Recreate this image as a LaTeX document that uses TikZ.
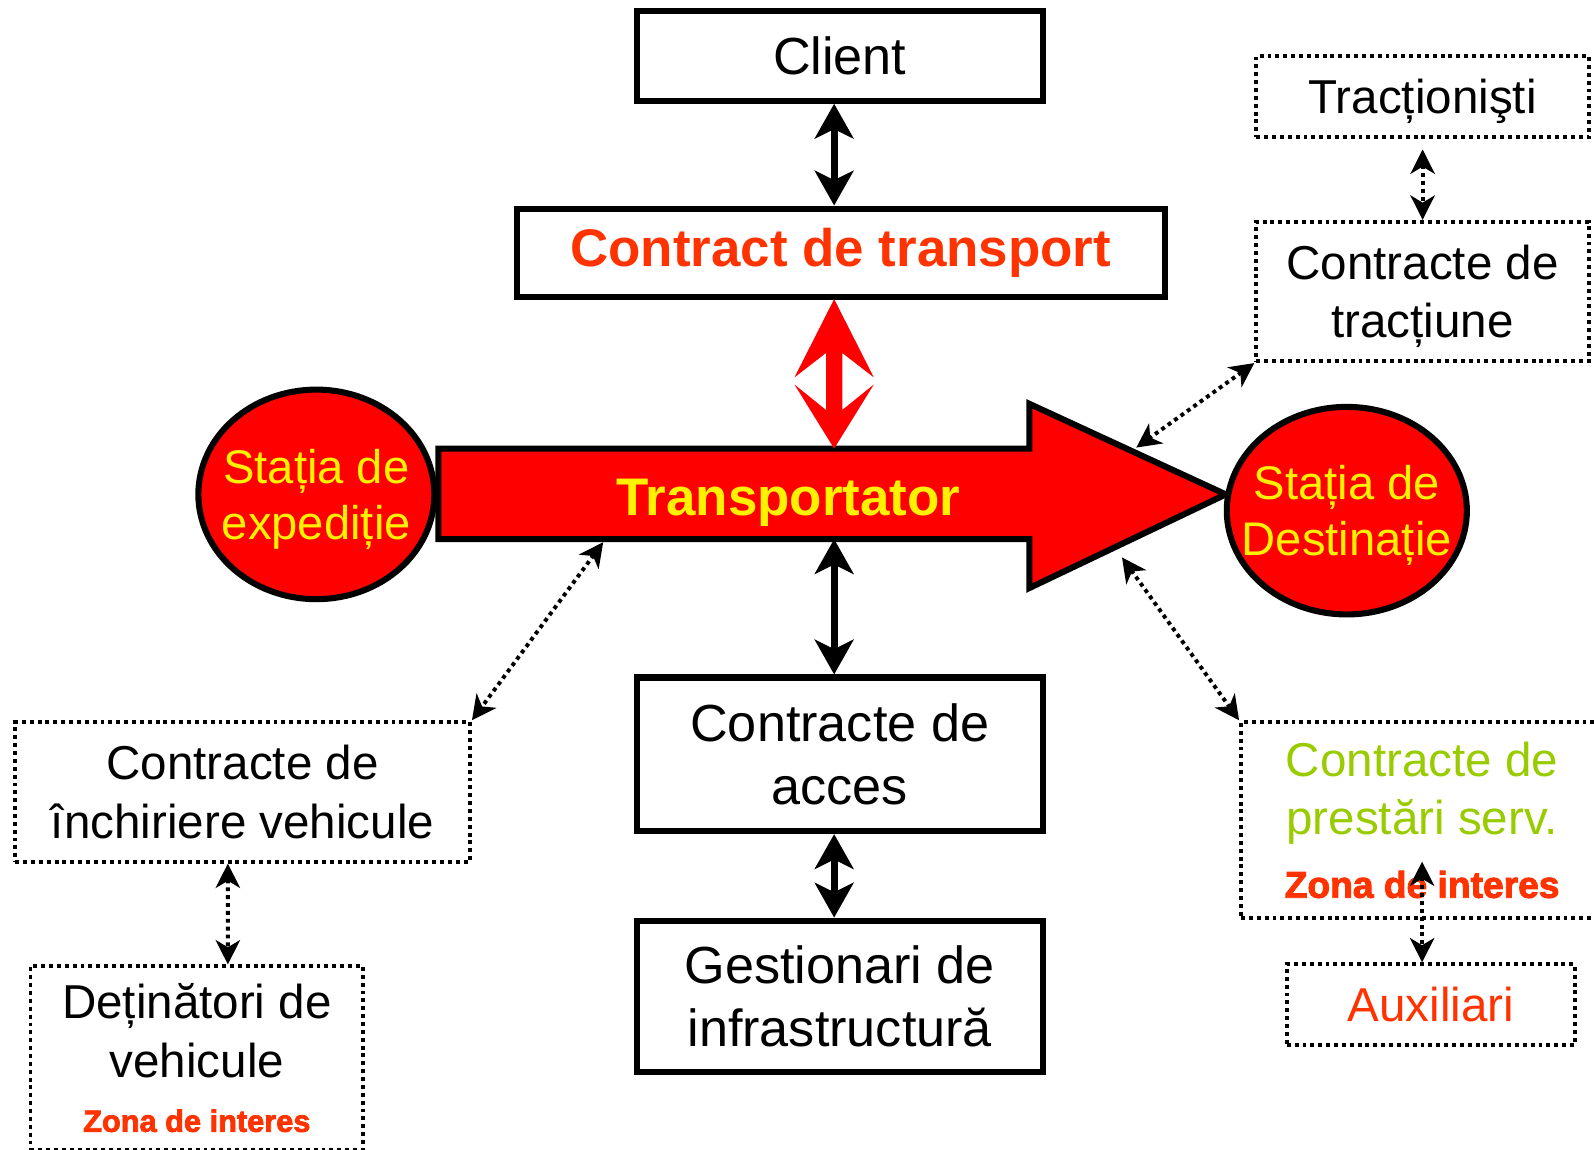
\documentclass[tikz,border=0pt]{standalone}
\usepackage{fontspec}
\setmainfont{Liberation Sans}
\newfontfamily\zonaface{Liberation Sans}[BoldFeatures={FakeBold=2.5}]
\usetikzlibrary{arrows.meta,shapes.geometric}
\definecolor{vermilion}{HTML}{FF3300}
\definecolor{leafgreen}{HTML}{99CC00}
\begin{document}
\begin{tikzpicture}[x=0.1mm,y=-0.1mm,
  solidbox/.style={draw,line width=1.7pt,inner sep=0pt,align=center,font=\fontsize{14.6}{17.8}\selectfont},
  dotbox/.style={draw,line width=1.1pt,dash pattern=on 1.1pt off 1.1pt,inner sep=0pt,align=center,font=\fontsize{13.3}{16.4}\selectfont},
  station/.style={ellipse,draw,line width=1.7pt,fill=red,text=yellow,inner xsep=-3mm,inner ysep=0pt,text depth=0pt,align=center,font=\fontsize{13.2}{15.6}\selectfont},
  solidarrow/.style={line width=2pt,{Stealth[length=9.7pt,width=10.8pt,inset=2.6pt]}-{Stealth[length=9.7pt,width=10.8pt,inset=2.6pt]}},
  dotarrow/.style={line width=1.1pt,dash pattern=on 1.1pt off 1.1pt,{Stealth[length=6.8pt,width=6.8pt,inset=2pt]}-{Stealth[length=6.8pt,width=6.8pt,inset=2pt]}}]
\useasboundingbox (0,0) rectangle (1567,1130);

\draw [line width=1.7pt,fill=red] (431,441) -- (1012,441) -- (1012,397) -- (1205,486) -- (1012,578) -- (1012,530) -- (431,530) -- cycle;
  \node (transp) at (775,494) {\bfseries\fontsize{14.8}{17}\selectfont\color{yellow}Transportator};
  \node[station,minimum width=23.2mm,minimum height=20.6mm] (expeditie) at (311,486) {Stația de\\expediție};
  \node[station,minimum width=23.6mm,minimum height=20.4mm] (destinatie) at (1324,502) {Stația de\\Destinație};

  \node[solidbox,minimum width=39.9mm,minimum height=8.8mm] (client) at (825.5,55) {Client};
  \node[solidbox,minimum width=63.7mm,minimum height=8.7mm,text=vermilion,font=\bfseries\fontsize{14.8}{17}\selectfont] (ctransp) at (826.5,248.5) {Contract de transport};
  \node[solidbox,minimum width=39.9mm,minimum height=15.1mm] (acces) at (825.5,741.5) {Contracte de\\acces};
  \node[solidbox,minimum width=39.9mm,minimum height=14.9mm] (gestionari) at (825.5,979.5) {Gestionari de\\infrastructură};

  \node[dotbox,minimum width=32.7mm,minimum height=8mm,text depth=0pt] (tractionisti) at (1398.5,95) {Tracționişti};
  \node[dotbox,minimum width=32.7mm,minimum height=13.7mm,text depth=0pt] (ctract) at (1398.5,286.5) {Contracte de\\tracțiune};
  \node[dotbox,minimum width=35.6mm,minimum height=19.2mm,text=leafgreen] (prestari) at (1398,806) {Contracte de\\prestări serv.\\[1.2pt]{\color{vermilion}\zonaface\bfseries\fontsize{10.4}{10.4}\selectfont Zona de interes}};
  \node[dotbox,minimum width=28.3mm,minimum height=7.9mm,text=vermilion] (auxiliari) at (1406.5,987.5) {Auxiliari};
  \node[dotbox,minimum width=44.7mm,minimum height=13.7mm] (inchiriere) at (238.5,778.5) {Contracte de\\închiriere vehicule};
  \node[dotbox,minimum width=32.7mm,minimum height=18mm] (detinatori) at (193.5,1040) {Deținători de\\vehicule\\[-1.2pt]{\color{vermilion}\zonaface\bfseries\fontsize{8.6}{8.6}\selectfont Zona de interes}};

\coordinate (ax) at (820,0);
\coordinate (bodytop) at (820,441);
\coordinate (bodybot) at (820,530);
\coordinate (hd1) at (1117,440);
\coordinate (hd2) at (1103,548);
\coordinate (sh1) at (593,533);

\draw [solidarrow] (client.south -| ax) -- (ctransp.north -| ax);
\fill [red] (820,294) -- (859,371) -- (828,347) -- (828,403) -- (859,378) -- (820,441) -- (781,378) -- (812,403) -- (812,347) -- (781,371) -- cycle;
\draw [solidarrow] (bodybot) -- (acces.north -| ax);
\draw [solidarrow] (acces.south -| ax) -- (gestionari.north -| ax);

\draw [dotarrow] ([yshift=-1mm]tractionisti.south) -- (ctract.north);
\draw [dotarrow] (ctract.south west) -- (hd1);
\draw [dotarrow] (hd2) -- (prestari.north west);
\draw [dotarrow] ([yshift=5.7mm]prestari.south) -- (prestari.south |- auxiliari.north);
\draw [dotarrow] (sh1) -- (inchiriere.north east);
\draw [dotarrow] ([xshift=-1.45mm]inchiriere.south) -- ([xshift=3.05mm]detinatori.north);
\end{tikzpicture}
\end{document}
